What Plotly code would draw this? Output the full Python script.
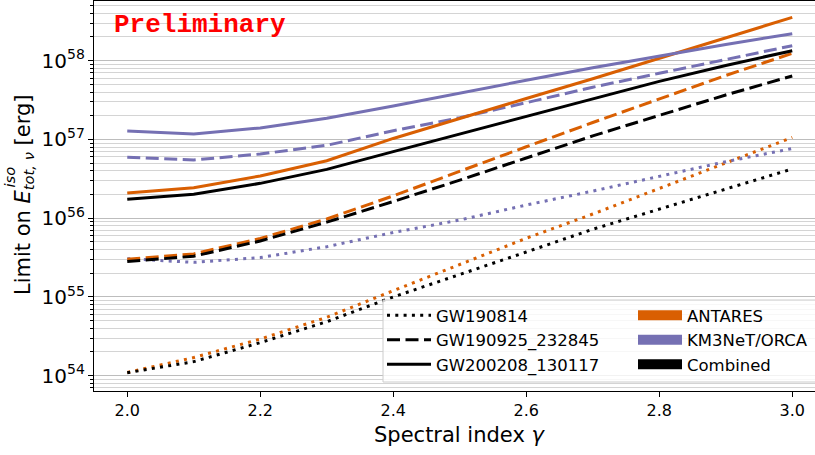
import plotly.graph_objects as go

# Spectral indices scanned
gamma = [2.0, 2.1, 2.2, 2.3, 2.4, 2.5, 2.6, 2.7, 2.8, 2.9, 3.0]

# Upper limits on the total isotropic neutrino energy [erg]
antares_gw190814 = [1.10e54, 1.70e54, 2.92e54, 5.52e54, 1.20e55, 2.59e55, 5.56e55, 1.13e56, 2.38e56, 4.99e56, 1.06e57]
orca_gw190814 = [3.06e55, 2.75e55, 3.16e55, 4.35e55, 6.58e55, 9.48e55, 1.47e56, 2.21e56, 3.40e56, 5.22e56, 7.67e56]
combined_gw190814 = [1.09e54, 1.51e54, 2.63e54, 4.85e54, 1.00e55, 1.91e55, 3.72e55, 7.24e55, 1.31e56, 2.36e56, 4.22e56]

antares_gw190925 = [3.01e55, 3.52e55, 5.53e55, 9.77e55, 1.92e56, 3.98e56, 8.07e56, 1.64e57, 3.27e57, 6.49e57, 1.24e58]
orca_gw190925 = [5.93e56, 5.48e56, 6.53e56, 8.43e56, 1.29e57, 1.89e57, 2.93e57, 4.61e57, 6.92e57, 1.04e58, 1.55e58]
combined_gw190925 = [2.81e55, 3.29e55, 5.14e55, 8.91e55, 1.63e56, 3.04e56, 5.81e56, 1.11e57, 2.02e57, 3.67e57, 6.40e57]

antares_gw200208 = [2.09e56, 2.44e56, 3.44e56, 5.37e56, 1.03e57, 1.86e57, 3.31e57, 5.89e57, 1.07e58, 1.95e58, 3.55e58]
orca_gw200208 = [1.28e57, 1.17e57, 1.40e57, 1.86e57, 2.66e57, 3.83e57, 5.64e57, 8.15e57, 1.15e58, 1.61e58, 2.20e58]
combined_gw200208 = [1.74e56, 2.01e56, 2.77e56, 4.17e56, 7.00e56, 1.17e57, 2.00e57, 3.31e57, 5.47e57, 8.71e57, 1.34e58]

events = ["GW190814", "GW190925_232845", "GW200208_130117"]
detectors = ["ANTARES", "KM3NeT/ORCA", "Combined"]
x_ticks = [2.0, 2.2, 2.4, 2.6, 2.8, 3.0]

limits = {
    ("ANTARES", "GW190814"): antares_gw190814,
    ("KM3NeT/ORCA", "GW190814"): orca_gw190814,
    ("Combined", "GW190814"): combined_gw190814,
    ("ANTARES", "GW190925_232845"): antares_gw190925,
    ("KM3NeT/ORCA", "GW190925_232845"): orca_gw190925,
    ("Combined", "GW190925_232845"): combined_gw190925,
    ("ANTARES", "GW200208_130117"): antares_gw200208,
    ("KM3NeT/ORCA", "GW200208_130117"): orca_gw200208,
    ("Combined", "GW200208_130117"): combined_gw200208,
}

colors = {"ANTARES": "#d95f02", "KM3NeT/ORCA": "#7570b3", "Combined": "#000000"}
dashes = {"GW190814": "3px,5.3px", "GW190925_232845": "13px,5.5px", "GW200208_130117": "solid"}

# figure geometry (pixels)
W, H = 815, 455
ML, MT, MB = 94, 1, 64
PW, PH = W - ML, H - MT - MB


def px(xp):
    return (xp - ML) / PW


def py(yp):
    return 1 - (yp - MT) / PH


fig = go.Figure()

for ev in events:
    for det in detectors:
        fig.add_trace(go.Scatter(
            x=gamma, y=limits[(det, ev)], mode="lines",
            line=dict(color=colors[det], width=3, dash=dashes[ev]),
            showlegend=False, hoverinfo="skip",
        ))

# legend entries: line style per event
for ev in events:
    fig.add_trace(go.Scatter(
        x=[None], y=[None], mode="lines", name=ev,
        line=dict(color="black", width=3, dash=dashes[ev]),
        legend="legend",
    ))
# legend entries: colour per detector
for det in detectors:
    fig.add_trace(go.Scatter(
        x=[None], y=[None], mode="lines", name=det,
        line=dict(color=colors[det], width=11),
        legend="legend2",
    ))

legend_font = dict(family="DejaVu Sans", size=16.5, color="black")

fig.update_layout(
    width=W, height=H,
    margin=dict(l=ML, r=0, t=MT, b=MB, pad=0),
    paper_bgcolor="white", plot_bgcolor="white",
    font=dict(family="DejaVu Sans", size=16, color="black"),
    legend=dict(x=px(382), y=py(298), xanchor="left", yanchor="top",
                bgcolor="rgba(0,0,0,0)", borderwidth=0, font=legend_font,
                tracegroupgap=0, itemwidth=44),
    legend2=dict(x=px(633), y=py(298), xanchor="left", yanchor="top",
                 bgcolor="rgba(0,0,0,0)", borderwidth=0, font=legend_font,
                 tracegroupgap=0, itemwidth=44),
    xaxis=dict(
        range=[1.95, 1.95 + PW / 665.0],
        tickvals=x_ticks, tickformat=".1f",
        showgrid=False, zeroline=False,
        showline=True, linecolor="black", linewidth=1, mirror=True,
        ticks="outside", ticklen=5, tickwidth=1, tickcolor="black",
        tickfont=dict(size=16),
    ),
    yaxis=dict(
        type="log",
        range=[54 - (MT + PH - 375.7) / 78.75, 58 + (60.7 - MT) / 78.75],
        dtick=1, exponentformat="power",
        showgrid=True, gridcolor="#bdbdbd", gridwidth=1,
        zeroline=False,
        showline=True, linecolor="black", linewidth=1, mirror=False,
        ticks="outside", ticklen=5, tickwidth=1, tickcolor="black",
        tickfont=dict(size=16),
        minor=dict(dtick="D1", ticks="outside", ticklen=3, tickwidth=1,
                   tickcolor="black", showgrid=True, gridcolor="#d4d4d4",
                   gridwidth=1),
    ),
)

# legend frame
fig.add_shape(type="rect", xref="paper", yref="paper",
              x0=px(383), x1=1.05, y0=py(382), y1=py(300),
              fillcolor="rgba(255,255,255,0.8)",
              line=dict(color="#cccccc", width=1), layer="above")

# axis titles
fig.add_annotation(text="Spectral index <i>γ</i>", xref="paper", yref="paper",
                   x=px(460), y=py(435), xanchor="center", yanchor="middle",
                   showarrow=False, font=dict(size=21))
fig.add_annotation(text="Limit on <i>E</i><sub><i>tot, ν</i></sub> [erg]",
                   xref="paper", yref="paper", textangle=-90,
                   x=px(24), y=py(195), xanchor="center", yanchor="middle",
                   showarrow=False, font=dict(size=21))
fig.add_annotation(text="<i>iso</i>", xref="paper", yref="paper", textangle=-90,
                   x=px(9), y=py(190), xanchor="center", yanchor="bottom",
                   showarrow=False, font=dict(size=14.7))

fig.add_annotation(text="<b>Preliminary</b>", xref="paper", yref="paper",
                   x=px(112), y=py(25), xanchor="left", yanchor="middle",
                   showarrow=False,
                   font=dict(family="Liberation Mono", size=26, color="#ff0000"))

fig.write_html("out.html")
